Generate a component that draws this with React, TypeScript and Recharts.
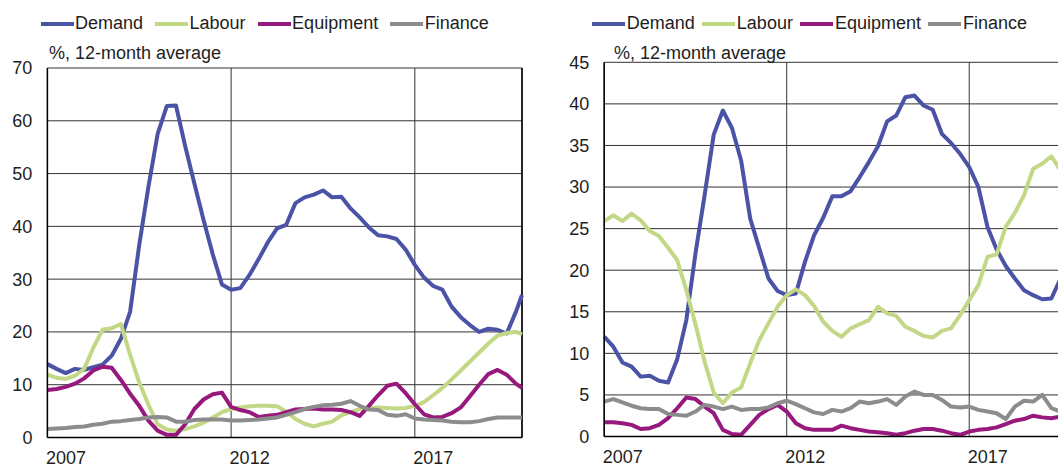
import React from 'react';
import { LineChart, Line, XAxis, YAxis, CartesianGrid, ReferenceLine } from 'recharts';

// quarterly observations, last one is Dec 2019
const periods: string[] = [];
for (let y = 2007; y <= 2019; y++) {
    for (const m of ['01', '04', '07', '10']) periods.push(`${y}-${m}`);
}
periods.push('2019-12');

const leftDemand = [13.9, 13.0, 12.2, 13.0, 12.8, 13.3, 13.8, 15.5, 18.7, 23.8, 36.5, 47.5, 57.5, 62.8, 62.9, 55.2, 48.1, 41.2, 34.7, 29.0, 28.0, 28.3, 30.8, 33.8, 37.0, 39.6, 40.3, 44.4, 45.5, 46.0, 46.8, 45.5, 45.6, 43.4, 41.7, 39.8, 38.3, 38.1, 37.6, 35.6, 32.7, 30.3, 28.7, 28.0, 24.8, 22.8, 21.3, 20.0, 20.6, 20.4, 19.7, 23.8, 27.0];
const leftLabour = [11.9, 11.3, 11.1, 11.7, 13.0, 17.0, 20.4, 20.7, 21.5, 15.7, 10.4, 6.2, 2.5, 1.5, 1.3, 1.6, 2.1, 2.8, 3.8, 4.8, 5.4, 5.7, 5.9, 6.0, 6.0, 5.9, 4.9, 3.5, 2.6, 2.1, 2.6, 3.0, 4.2, 4.8, 5.4, 5.6, 5.7, 5.6, 5.5, 5.6, 6.0, 6.7, 8.0, 9.4, 11.0, 12.7, 14.4, 16.1, 17.8, 19.3, 19.8, 20.0, 19.6];
const leftEquipment = [9.0, 9.2, 9.6, 10.2, 11.2, 12.7, 13.4, 13.2, 10.9, 8.3, 6.0, 3.2, 1.3, 0.5, 0.5, 2.5, 5.4, 7.2, 8.2, 8.5, 5.8, 5.2, 4.8, 3.9, 4.1, 4.3, 4.8, 5.3, 5.4, 5.5, 5.3, 5.3, 5.2, 4.8, 4.1, 6.0, 8.0, 9.8, 10.2, 8.4, 6.3, 4.4, 3.8, 3.9, 4.6, 5.7, 7.8, 10.0, 12.0, 12.8, 11.9, 10.2, 9.4];
const leftFinance = [1.6, 1.7, 1.8, 2.0, 2.1, 2.4, 2.6, 3.0, 3.1, 3.3, 3.5, 3.8, 3.9, 3.8, 3.0, 3.0, 3.3, 3.4, 3.4, 3.4, 3.2, 3.2, 3.3, 3.4, 3.6, 3.8, 4.3, 4.8, 5.4, 5.8, 6.1, 6.2, 6.4, 6.9, 6.0, 5.3, 5.2, 4.3, 4.1, 4.4, 3.6, 3.4, 3.3, 3.2, 3.0, 2.9, 2.9, 3.1, 3.5, 3.8, 3.8, 3.8, 3.8];

const rightDemand = [12.0, 10.8, 8.9, 8.4, 7.2, 7.3, 6.7, 6.5, 9.3, 14.0, 22.0, 29.0, 36.3, 39.2, 37.1, 33.2, 26.2, 22.6, 19.0, 17.5, 17.0, 17.2, 21.0, 24.2, 26.3, 28.9, 28.9, 29.5, 31.2, 33.0, 34.9, 37.9, 38.6, 40.8, 41.0, 39.8, 39.3, 36.4, 35.3, 34.0, 32.4, 30.0, 25.2, 22.5, 20.5, 19.0, 17.6, 17.0, 16.5, 16.6, 19.0, 22.0, 24.0];
const rightLabour = [25.9, 26.6, 25.9, 26.8, 26.0, 24.7, 24.1, 22.7, 21.2, 17.6, 13.5, 9.0, 5.3, 4.0, 5.3, 5.9, 8.8, 11.6, 13.6, 15.6, 17.0, 17.7, 17.0, 15.7, 13.8, 12.7, 12.0, 13.0, 13.5, 14.0, 15.6, 14.8, 14.5, 13.2, 12.7, 12.1, 11.9, 12.7, 13.0, 14.6, 16.4, 18.2, 21.6, 21.9, 25.2, 26.9, 29.0, 32.2, 32.8, 33.7, 32.0, 31.0, 30.5];
const rightEquipment = [1.7, 1.7, 1.6, 1.4, 0.9, 1.0, 1.4, 2.2, 3.4, 4.7, 4.5, 3.6, 2.8, 0.8, 0.3, 0.2, 1.4, 2.6, 3.3, 3.8, 3.0, 1.6, 1.0, 0.8, 0.8, 0.8, 1.3, 1.0, 0.8, 0.6, 0.5, 0.4, 0.2, 0.4, 0.7, 0.9, 0.9, 0.7, 0.4, 0.2, 0.6, 0.8, 0.9, 1.1, 1.5, 1.9, 2.1, 2.5, 2.3, 2.2, 2.4, 2.5, 2.5];
const rightFinance = [4.2, 4.5, 4.1, 3.7, 3.4, 3.3, 3.3, 2.7, 2.6, 2.5, 3.0, 3.8, 3.6, 3.3, 3.6, 3.2, 3.3, 3.3, 3.5, 4.0, 4.3, 3.9, 3.4, 2.9, 2.7, 3.2, 3.0, 3.4, 4.2, 4.0, 4.2, 4.5, 3.8, 4.8, 5.4, 5.0, 5.0, 4.4, 3.6, 3.5, 3.6, 3.2, 3.0, 2.8, 2.1, 3.6, 4.3, 4.2, 5.0, 3.4, 3.0, 3.0, 3.0];

const seriesKeys = ['demand', 'labour', 'equipment', 'finance'];
const seriesNames = ['Demand', 'Labour', 'Equipment', 'Finance'];
const seriesColors = ['#4B53A6', '#C3D886', '#98197D', '#8C8C8C'];

const xTicks = [2007, 2012, 2017];
const leftYTicks = [0, 10, 20, 30, 40, 50, 60, 70];
const rightYTicks = [0, 5, 10, 15, 20, 25, 30, 35, 40, 45];
const subtitle = '%, 12-month average';

const FONT = '"Liberation Sans", Arial, sans-serif';

const toYear = (p: string) => Number(p.slice(0, 4)) + (Number(p.slice(5, 7)) - 1) / 12;
const xMin = toYear(periods[0]);
const xMax = toYear(periods[periods.length - 1]);

const buildRows = (demand: number[], labour: number[], equipment: number[], finance: number[]) =>
    periods.map((p, i) => ({ t: toYear(p), demand: demand[i], labour: labour[i], equipment: equipment[i], finance: finance[i] }));

const leftData = buildRows(leftDemand, leftLabour, leftEquipment, leftFinance);
const rightData = buildRows(rightDemand, rightLabour, rightEquipment, rightFinance);

const XTick = (props: any) => (
    <text x={props.x - 1.5} y={props.y + 26.5} textAnchor="start" fill="#1e1e1e" fontSize={18} fontFamily={FONT}>
        {props.payload.value}
    </text>
);

interface PanelProps {
    data: any[];
    yMax: number;
    yTicks: number[];
    width: number;
    margin: { top: number; right: number; bottom: number; left: number };
    yAxisWidth: number;
    xAxisHeight: number;
}

const Panel: React.FC<PanelProps> = ({ data, yMax, yTicks, width, margin, yAxisWidth, xAxisHeight }) => (
    <LineChart width={width} height={468} data={data} margin={margin}>
        <CartesianGrid stroke="#333" strokeWidth={1} />
        <XAxis
            dataKey="t"
            type="number"
            domain={[xMin, xMax]}
            ticks={xTicks}
            interval={0}
            height={xAxisHeight}
            tickLine={false}
            tickSize={0}
            tickMargin={0}
            axisLine={{ stroke: '#000', strokeWidth: 1.5 }}
            tick={XTick}
        />
        <YAxis
            domain={[0, yMax]}
            ticks={yTicks}
            interval={0}
            width={yAxisWidth}
            tickLine={false}
            tickSize={0}
            tickMargin={15}
            axisLine={{ stroke: '#000', strokeWidth: 1.5 }}
            tick={{ fill: '#1e1e1e', fontSize: 18, fontFamily: FONT }}
        />
        <ReferenceLine x={xMax} stroke="#000" strokeWidth={1.5} />
        {seriesKeys.map((k, i) => (
            <Line
                key={k}
                type="linear"
                dataKey={k}
                stroke={seriesColors[i]}
                strokeWidth={4}
                strokeLinejoin="round"
                dot={false}
                isAnimationActive={false}
            />
        ))}
    </LineChart>
);

const LegendRow: React.FC<{ left: number; gap: number }> = ({ left, gap }) => (
    <div style={{ position: 'absolute', left, top: 13.5, display: 'flex', alignItems: 'center', whiteSpace: 'nowrap', fontFamily: FONT, fontSize: 18, lineHeight: '18px', color: '#1e1e1e' }}>
        {seriesNames.map((name, i) => (
            <div key={name} style={{ display: 'flex', alignItems: 'center', marginRight: gap }}>
                <span style={{ display: 'inline-block', width: 33, height: 4, background: seriesColors[i], marginRight: 1.5, position: 'relative', top: 1 }} />
                <span>{name}</span>
            </div>
        ))}
    </div>
);

const Subtitle: React.FC<{ left: number }> = ({ left }) => (
    <div style={{ position: 'absolute', left, top: 43.8, fontFamily: FONT, fontSize: 18, lineHeight: '18px', color: '#1e1e1e', whiteSpace: 'nowrap' }}>
        {subtitle}
    </div>
);

export default function App() {
    return (
        <div style={{ position: 'fixed', left: 0, top: 0, width: 1058, height: 468, overflow: 'hidden', background: '#fff' }}>
            <div style={{ position: 'absolute', left: 0, top: 0 }}>
                <Panel data={leftData} yMax={70} yTicks={leftYTicks} width={530} margin={{ top: 68, right: 8, bottom: 0, left: 0 }} yAxisWidth={47.4} xAxisHeight={30.5} />
            </div>
            <div style={{ position: 'absolute', left: 530, top: 0 }}>
                <Panel data={rightData} yMax={45} yTicks={rightYTicks} width={560} margin={{ top: 62.3, right: 14.3, bottom: 0, left: 0 }} yAxisWidth={74.2} xAxisHeight={31.5} />
            </div>
            <LegendRow left={40.5} gap={12} />
            <LegendRow left={592.3} gap={7.5} />
            <Subtitle left={49} />
            <Subtitle left={614} />
        </div>
    );
}
